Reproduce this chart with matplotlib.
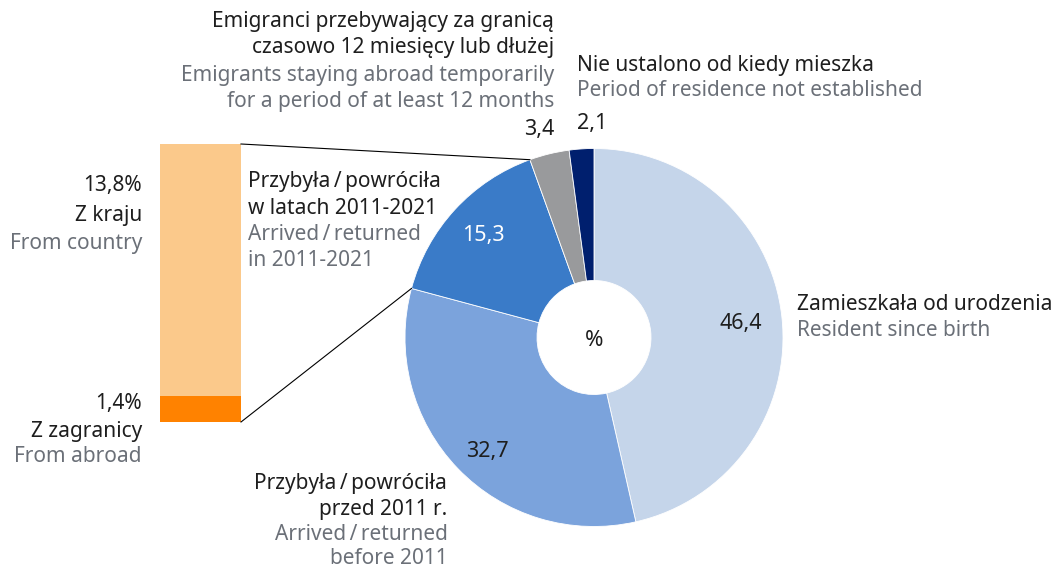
import numpy as np
import matplotlib
matplotlib.use("Agg")
import matplotlib.pyplot as plt

plt.rcParams["font.family"] = ["Noto Sans", "DejaVu Sans"]

# Population by period of residence (%)
pie_labels = ["Zamieszkała od urodzenia", "Przybyła/powróciła przed 2011 r.",
              "Przybyła/powróciła w latach 2011-2021",
              "Emigranci przebywający za granicą", "Nie ustalono od kiedy mieszka"]
pie_values = [46.4, 32.7, 15.3, 3.4, 2.1]
pie_value_text = ["46,4", "32,7", "15,3", "3,4", "2,1"]
pie_colors = ["#C5D5EA", "#7BA3DC", "#3A7BC8", "#999A9C", "#001F6E"]

# Breakdown of arrivals 2011-2021 by origin (% of total)
bar_labels = ["Z zagranicy", "Z kraju"]
bar_values = [1.4, 13.8]
bar_value_text = ["1,4%", "13,8%"]
bar_colors = ["#FF8200", "#FBC98B"]

W, H = 1057, 568
DARK = "#1E1E1E"
GRAY = "#6B7078"
FS = 15
SL = "\u2009/\u2009"

fig = plt.figure(figsize=(W / 100, H / 100), dpi=100)
ax = fig.add_axes([0, 0, 1, 1])


def Y(y):
    return H - y


cx, cy, R, ring = 594, Y(337.5), 189, 132
ax.pie(pie_values, colors=pie_colors, startangle=90, counterclock=False,
       center=(cx, cy), radius=R,
       wedgeprops=dict(width=ring, edgecolor="white", linewidth=0.6))

# stacked bar for the 2011-2021 wedge
bx, bw, b_bottom, b_top = 200.5, 81, Y(422), Y(144)
scale = (b_top - b_bottom) / sum(bar_values)
bottom = b_bottom
for v, c in zip(bar_values, bar_colors):
    ax.bar(bx, v * scale, width=bw, bottom=bottom, color=c, linewidth=0)
    bottom += v * scale

# connector lines from bar corners to the edges of the 2011-2021 wedge
cum = np.cumsum(pie_values) / sum(pie_values)
ang_lo = np.deg2rad(90 - 360 * cum[1])   # start of 15.3 wedge
ang_hi = np.deg2rad(90 - 360 * cum[2])   # end of 15.3 wedge
xr = bx + bw / 2
ax.plot([xr, cx + R * np.cos(ang_hi)], [b_top, cy + R * np.sin(ang_hi)],
        color="black", lw=0.8)
ax.plot([xr, cx + R * np.cos(ang_lo)], [b_bottom, cy + R * np.sin(ang_lo)],
        color="black", lw=0.8)


def txt(x, y, s, color=DARK, ha="left", size=FS):
    ax.text(x, Y(y), s, color=color, ha=ha, va="center", fontsize=size)


# values on wedges
txt(741, 323, pie_value_text[0], ha="center", size=15.5)
txt(487, 452, pie_value_text[1], ha="center", size=15.5)
txt(483, 236, pie_value_text[2], color="white", ha="center", size=15.5)
txt(594, 341, "%", ha="center", size=16)

# Emigrants
txt(554, 22, "Emigranci przebywający za granicą", ha="right")
txt(554, 48, "czasowo 12 miesięcy lub dłużej", ha="right")
txt(554, 75, "Emigrants staying abroad temporarily", color=GRAY, ha="right")
txt(554, 101, "for a period of at least 12 months", color=GRAY, ha="right")
txt(554, 129, pie_value_text[3], ha="right", size=15.5)

# Not established
txt(577, 65, "Nie ustalono od kiedy mieszka")
txt(577, 91, "Period of residence not established", color=GRAY)
txt(577, 123, pie_value_text[4], size=15.5)

# Arrived 2011-2021
txt(248, 182, "Przybyła" + SL + "powróciła")
txt(248, 208, "w latach 2011-2021")
txt(248, 234, "Arrived" + SL + "returned", color=GRAY)
txt(248, 260, "in 2011-2021", color=GRAY)

# Resident since birth
txt(797, 305, "Zamieszkała od urodzenia")
txt(797, 331, "Resident since birth", color=GRAY)

# Arrived before 2011
txt(447, 483, "Przybyła" + SL + "powróciła", ha="right")
txt(447, 509, "przed 2011 r.", ha="right")
txt(448, 535, "Arrived" + SL + "returned", color=GRAY, ha="right")
txt(448, 558, "before 2011", color=GRAY, ha="right")

# Bar labels
txt(142, 186, bar_value_text[1], ha="right")
txt(142, 216, bar_labels[1], ha="right")
txt(142, 243, "From country", color=GRAY, ha="right")
txt(142, 404, bar_value_text[0], ha="right")
txt(142, 431, bar_labels[0], ha="right")
txt(142, 457, "From abroad", color=GRAY, ha="right")

ax.set_xlim(0, W)
ax.set_ylim(0, H)
ax.set_aspect("auto")
ax.axis("off")

fig.savefig("out.png", dpi=100)
